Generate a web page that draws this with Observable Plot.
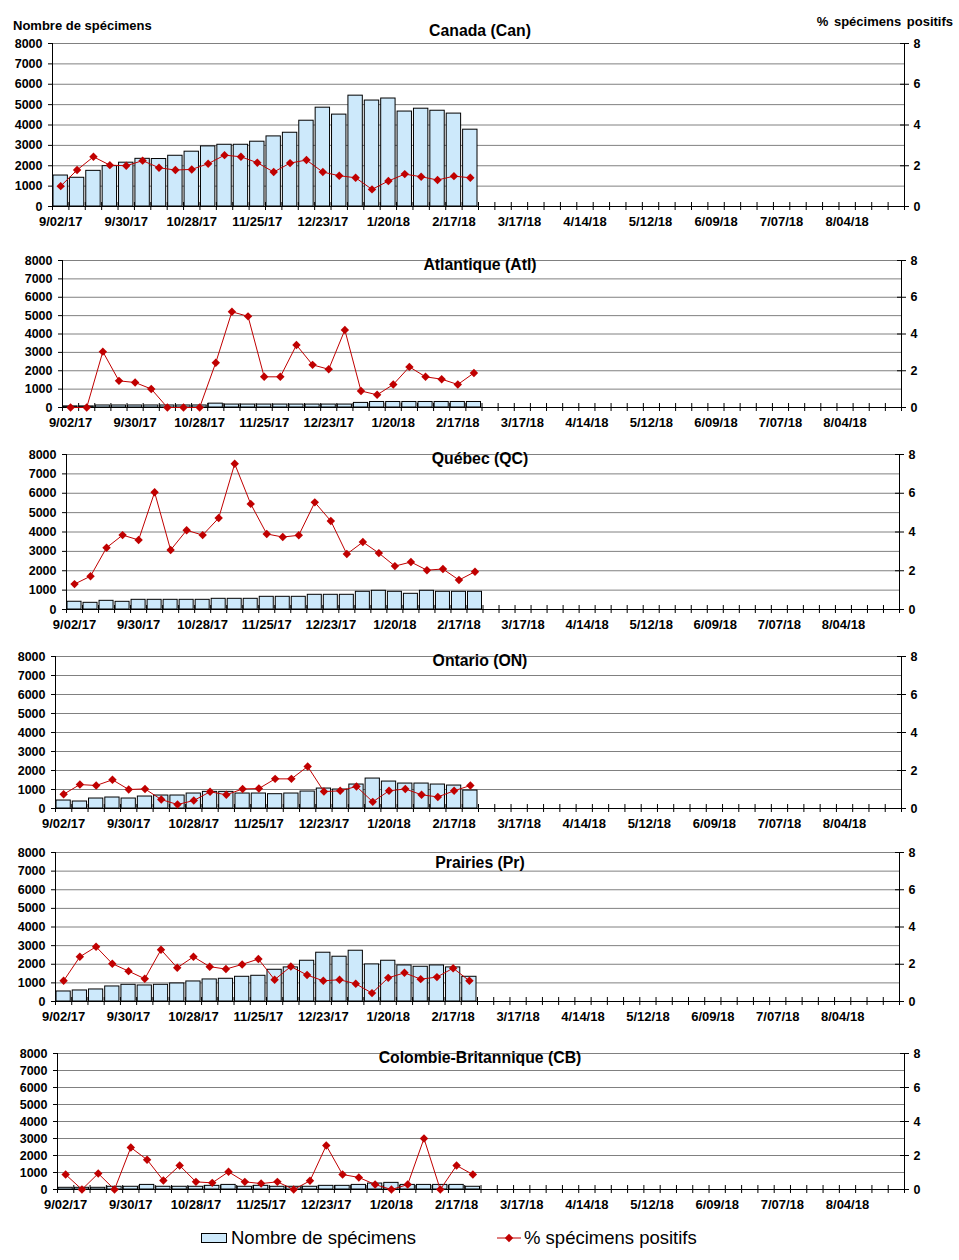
<!DOCTYPE html>
<html><head><meta charset="utf-8">
<script src="https://cdn.jsdelivr.net/npm/d3@7"></script>
<script src="https://cdn.jsdelivr.net/npm/@observablehq/plot@0.6"></script>
<style>
body{margin:0;background:#fff;font-family:"Liberation Sans",Arial,sans-serif;color:#000;}
#page{position:relative;width:959px;height:1260px;overflow:hidden;background:#fff;}
.abs{position:absolute;left:0;}
.title{position:absolute;left:280px;width:400px;text-align:center;font-weight:bold;font-size:15.8px;line-height:18px;margin-top:-9px;white-space:nowrap;}
.hdr{position:absolute;font-weight:bold;font-size:13px;line-height:16px;margin-top:-8px;white-space:nowrap;}
.leg{position:absolute;font-size:18.5px;line-height:22px;margin-top:-11px;white-space:nowrap;}
</style></head><body><div id="page"></div>
<script>
// Weekly categories (52 weeks)
const weeks = ["9/02/17","9/09/17","9/16/17","9/23/17","9/30/17","10/07/17","10/14/17","10/21/17","10/28/17","11/04/17","11/11/17","11/18/17","11/25/17","12/02/17","12/09/17","12/16/17","12/23/17","12/30/17",
"1/06/18","1/13/18","1/20/18","1/27/18","2/03/18","2/10/18","2/17/18","2/24/18","3/03/18","3/10/18","3/17/18","3/24/18","3/31/18","4/07/18","4/14/18","4/21/18","4/28/18","5/05/18","5/12/18","5/19/18","5/26/18","6/02/18","6/09/18","6/16/18","6/23/18","6/30/18","7/07/18","7/14/18","7/21/18","7/28/18","8/04/18","8/11/18","8/18/18","8/25/18"];
const tickLabels = ["9/02/17","9/30/17","10/28/17","11/25/17","12/23/17","1/20/18","2/17/18","3/17/18","4/14/18","5/12/18","6/09/18","7/07/18","8/04/18"];
const leftTicks = [0,1000,2000,3000,4000,5000,6000,7000,8000];
const rightTicks = [0,2,4,6,8];

// Canada
const canN = [1520,1410,1750,1980,2150,2340,2330,2490,2690,2950,3030,3030,3180,3440,3620,4210,4850,4510,5440,5200,5300,4660,4800,4700,4560,3770];
const canPct = [1.0,1.79,2.44,2.03,2.0,2.25,1.9,1.79,1.82,2.1,2.52,2.44,2.15,1.69,2.13,2.28,1.69,1.51,1.41,0.84,1.25,1.59,1.46,1.30,1.49,1.41];
// Atlantique
const atlN = [60,60,110,110,110,110,110,110,110,210,160,160,160,160,160,160,160,160,250,300,300,300,300,300,300,300];
const atlPct = [0,0,3.04,1.45,1.36,1.01,0,0,0,2.44,5.21,4.96,1.67,1.67,3.40,2.32,2.08,4.22,0.9,0.69,1.25,2.21,1.67,1.54,1.25,1.88];
// Québec
const qcN = [400,345,448,397,500,500,500,500,500,552,552,552,655,655,655,759,759,759,914,966,914,810,966,914,914,914];
const qcPct = [1.31,1.72,3.19,3.84,3.59,6.05,3.07,4.09,3.84,4.72,7.52,5.45,3.90,3.74,3.83,5.53,4.57,2.86,3.48,2.91,2.24,2.45,2.03,2.09,1.52,1.95];
// Ontario
const onN = [420,368,525,578,525,630,683,683,788,876,876,788,788,753,788,893,1050,998,1261,1576,1418,1313,1313,1261,1208,945];
const onPct = [0.75,1.26,1.21,1.51,1.0,1.03,0.47,0.21,0.42,0.88,0.72,1.03,1.05,1.56,1.56,2.21,0.89,0.93,1.16,0.35,0.93,1.03,0.72,0.61,0.93,1.21];
// Prairies
const prN = [538,592,646,807,897,861,897,969,1076,1184,1220,1327,1381,1704,1830,2188,2619,2404,2726,1991,2188,1937,1865,1937,1830,1327];
const prPct = [1.11,2.40,2.94,2.03,1.63,1.22,2.78,1.81,2.40,1.87,1.74,1.99,2.28,1.17,1.88,1.42,1.11,1.17,0.95,0.45,1.27,1.54,1.20,1.31,1.79,1.11];
// Colombie-Britannique
const cbN = [100,100,100,160,160,270,160,160,160,215,270,160,215,160,160,160,215,215,270,350,390,270,270,270,270,160];
const cbPct = [0.88,0,0.94,0,2.47,1.75,0.53,1.41,0.45,0.39,1.04,0.45,0.35,0.45,0,0.51,2.59,0.88,0.71,0.29,0,0.29,3.0,0,1.41,0.88];

const BAR_FILL = "#cde9fb";
const RED = "#c00000";
const GRID = "#808080";

const panels = [
  {title:"Canada (Can)", n:canN, pct:canPct, top:0, h:235, mt:43, mb:29, ml:52, mr:55, ty:31},
  {title:"Atlantique (Atl)", n:atlN, pct:atlPct, top:235, h:200, mt:25, mb:28, ml:62, mr:58, ty:265},
  {title:"Québec (QC)", n:qcN, pct:qcPct, top:435, h:205, mt:19, mb:31, ml:66, mr:60, ty:459},
  {title:"Ontario (ON)", n:onN, pct:onPct, top:640, h:198, mt:16, mb:30, ml:55, mr:58, ty:661},
  {title:"Prairies (Pr)", n:prN, pct:prPct, top:838, h:194, mt:14, mb:31, ml:55, mr:60, ty:863},
  {title:"Colombie-Britannique (CB)", n:cbN, pct:cbPct, top:1032, h:188, mt:21, mb:31, ml:57, mr:55, ty:1058}
];

const page = document.getElementById("page");
const nW = weeks.length;
const bounds = d3.range(nW + 1);
const pctScale = 1000; // % axis 0–8 maps onto 0–8000

for (const p of panels) {
  const data = p.n.map((v, i) => ({i, week: weeks[i], n: v, pct: p.pct[i]}));
  const chart = Plot.plot({
    width: 959, height: p.h,
    marginTop: p.mt, marginBottom: p.mb, marginLeft: p.ml, marginRight: p.mr,
    style: {fontFamily: "'Liberation Sans', Arial, sans-serif", color: "#000", background: "transparent", overflow: "visible"},
    x: {domain: [0, nW], axis: null},
    y: {domain: [0, 8000]},
    marks: [
      Plot.gridY(leftTicks.slice(1), {stroke: GRID, strokeOpacity: 1, strokeWidth: 1}),
      Plot.rectY(data, {x1: d => d.i, x2: d => d.i + 1, y: "n", fill: BAR_FILL, stroke: "#000", strokeWidth: 1, insetLeft: 1, insetRight: 1}),
      Plot.ruleY([0], {stroke: "#000", strokeWidth: 1}),
      Plot.ruleX([0, nW], {stroke: "#000", strokeWidth: 1}),
      Plot.ruleX(bounds, {y1: 0, y2: 0, insetTop: -4, insetBottom: -4, stroke: "#000", strokeWidth: 1}),
      Plot.axisY(leftTicks, {anchor: "left", tickSize: 4, tickPadding: 6, tickFormat: d => String(d), fontWeight: "bold", fontSize: 12.5, label: null, stroke: "#000"}),
      Plot.axisY(rightTicks.map(t => t * pctScale), {anchor: "right", tickSize: 4, tickPadding: 5, tickFormat: d => String(d / pctScale), fontWeight: "bold", fontSize: 12.5, label: null}),
      Plot.ruleY(rightTicks.map(t => t * pctScale), {x1: nW, x2: nW, insetLeft: -4, insetRight: 0, stroke: "#000"}),
      Plot.line(data, {x: d => d.i + 0.5, y: d => d.pct * pctScale, stroke: RED, strokeWidth: 1}),
      Plot.dot(data, {x: d => d.i + 0.5, y: d => d.pct * pctScale, symbol: "diamond2", r: 3.8, fill: RED, stroke: "none"}),
      Plot.text(tickLabels, {x: d => weeks.indexOf(d) + 0.5, y: 0, dy: 15, text: d => d, fontWeight: "bold", fontSize: 13, lineAnchor: "middle", fill: "#000"})
    ]
  });
  const div = document.createElement("div");
  div.className = "abs";
  div.style.top = p.top + "px";
  div.appendChild(chart);
  page.appendChild(div);

  const t = document.createElement("div");
  t.className = "title";
  t.style.top = p.ty + "px";
  t.textContent = p.title;
  page.appendChild(t);
}

// axis headers
const h1 = document.createElement("div");
h1.className = "hdr"; h1.style.left = "13px"; h1.style.top = "26px";
h1.textContent = "Nombre de spécimens";
page.appendChild(h1);
const h2 = document.createElement("div");
h2.className = "hdr"; h2.style.right = "6px"; h2.style.top = "22px"; h2.style.wordSpacing = "2px";
h2.textContent = "% spécimens positifs";
page.appendChild(h2);

// legend
const legSvg = d3.create("svg").attr("width", 959).attr("height", 30)
  .style("position", "absolute").style("left", "0px").style("top", "1223px");
legSvg.append("rect").attr("x", 201.5).attr("y", 10.5).attr("width", 25).attr("height", 9)
  .attr("fill", BAR_FILL).attr("stroke", "#000");
legSvg.append("line").attr("x1", 497).attr("x2", 521).attr("y1", 15).attr("y2", 15).attr("stroke", RED);
legSvg.append("path").attr("d", d3.symbol(d3.symbolDiamond2, 45)()).attr("transform", "translate(509,15)").attr("fill", RED);
page.appendChild(legSvg.node());
const l1 = document.createElement("div");
l1.className = "leg"; l1.style.left = "231px"; l1.style.top = "1238px";
l1.textContent = "Nombre de spécimens";
page.appendChild(l1);
const l2 = document.createElement("div");
l2.className = "leg"; l2.style.left = "524px"; l2.style.top = "1238px";
l2.textContent = "% spécimens positifs";
page.appendChild(l2);
</script>
</body></html>
